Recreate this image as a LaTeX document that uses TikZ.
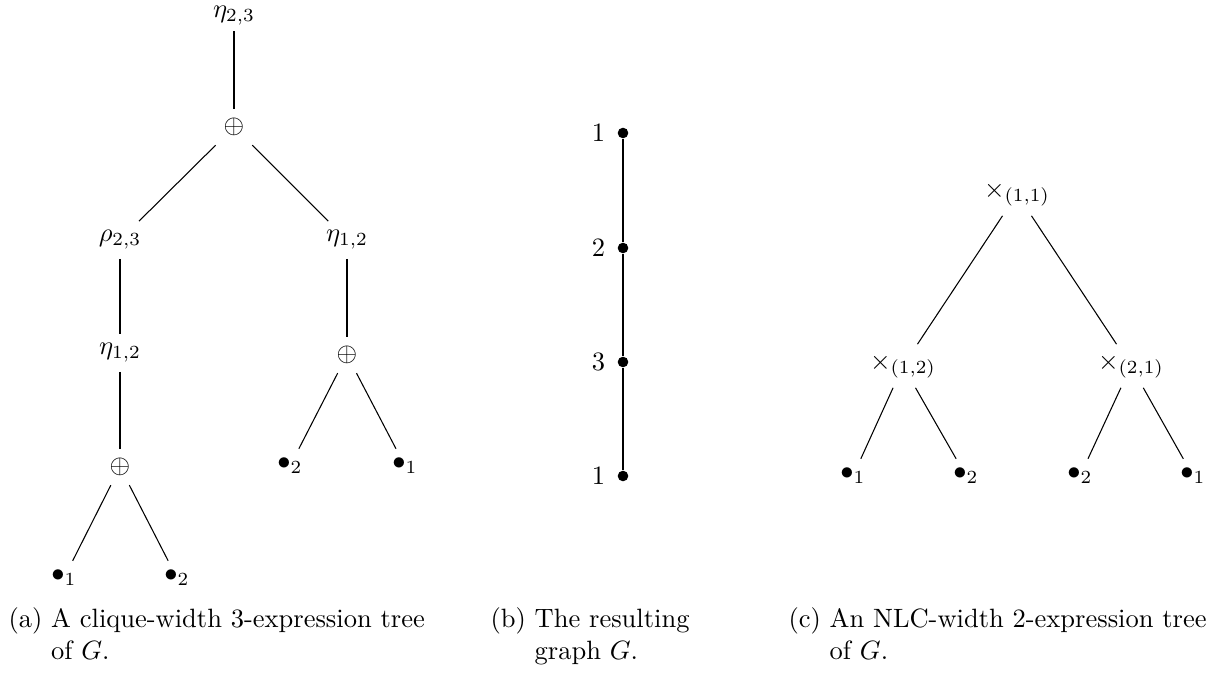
\documentclass[tikz,border=0pt]{standalone}
\usetikzlibrary{positioning}
\begin{document}
\begin{tikzpicture}[
    x=0.3774pt, y=-0.3774pt,
    op/.style={},
    vertex/.style={circle, fill, inner sep=0pt, minimum size=4pt},
    lbl/.style={left=1pt of #1},
    capt/.style={anchor=north west, align=left, inner sep=0pt}
]
\useasboundingbox (0,0) rectangle (1226,682);

% (a) clique-width expression
\node[op, inner sep=2pt] (eta) at (234,16) {$\eta_{2,3}$};
\node[op] (sum) at (234,127) {$\oplus$};
\node[op] (rho) at (120,240) {$\rho_{2,3}$};
\node[op] (etaR) at (347,240) {$\eta_{1,2}$};
\node[op] (etaL) at (120,353) {$\eta_{1,2}$};
\node[op] (sumL) at (120,467) {$\oplus$};
\node[op] (sumR) at (347,355) {$\oplus$};
\node[op] (la1) at (64,578) {$\bullet_1$};
\node[op] (la2) at (177,578) {$\bullet_2$};
\node[op] (lb2) at (290,466) {$\bullet_2$};
\node[op] (lb1) at (405,466) {$\bullet_1$};

\draw (eta) -- (sum);
\draw (sum) -- (rho);
\draw (sum) -- (etaR);
\draw (rho) -- (etaL);
\draw (etaL) -- (sumL);
\draw (sumL) -- (la1);
\draw (sumL) -- (la2);
\draw (etaR) -- (sumR);
\draw (sumR) -- (lb2);
\draw (sumR) -- (lb1);

% (b) the graph
\node[vertex] (v1) at (623,133) {};
\node[vertex] (v2) at (623,248) {};
\node[vertex] (v3) at (623,362) {};
\node[vertex] (v4) at (623,476) {};
\node[lbl=v1] (n1) {1};
\node[lbl=v2] (n2) {2};
\node[lbl=v3] (n3) {3};
\node[lbl=v4] (n4) {1};
\draw (v1) -- (v2) -- (v3) -- (v4);

% (c) NLC-width expression
\node[op] (x11) at (1017,194) {$\times_{(1,1)}$};
\node[op] (x12) at (903,366) {$\times_{(1,2)}$};
\node[op] (x21) at (1131,366) {$\times_{(2,1)}$};
\node[op] (lc1) at (853,476) {$\bullet_1$};
\node[op] (lc2) at (966,476) {$\bullet_2$};
\node[op] (ld2) at (1080,476) {$\bullet_2$};
\node[op] (ld1) at (1193,476) {$\bullet_1$};

\draw (x11) -- (x12);
\draw (x11) -- (x21);
\draw (x12) -- (lc1);
\draw (x12) -- (lc2);
\draw (x21) -- (ld2);
\draw (x21) -- (ld1);

% captions
\node[capt] (ca) at (8,607) {(a) A clique-width 3-expression tree\\\hphantom{(a) }of $G$.};
\node[capt] (cb) at (490,607) {(b) The resulting\\\hphantom{(b) }graph $G$.};
\node[capt] (cc) at (788,607) {(c) An NLC-width 2-expression tree\\\hphantom{(c) }of $G$.};
\end{tikzpicture}
\end{document}
